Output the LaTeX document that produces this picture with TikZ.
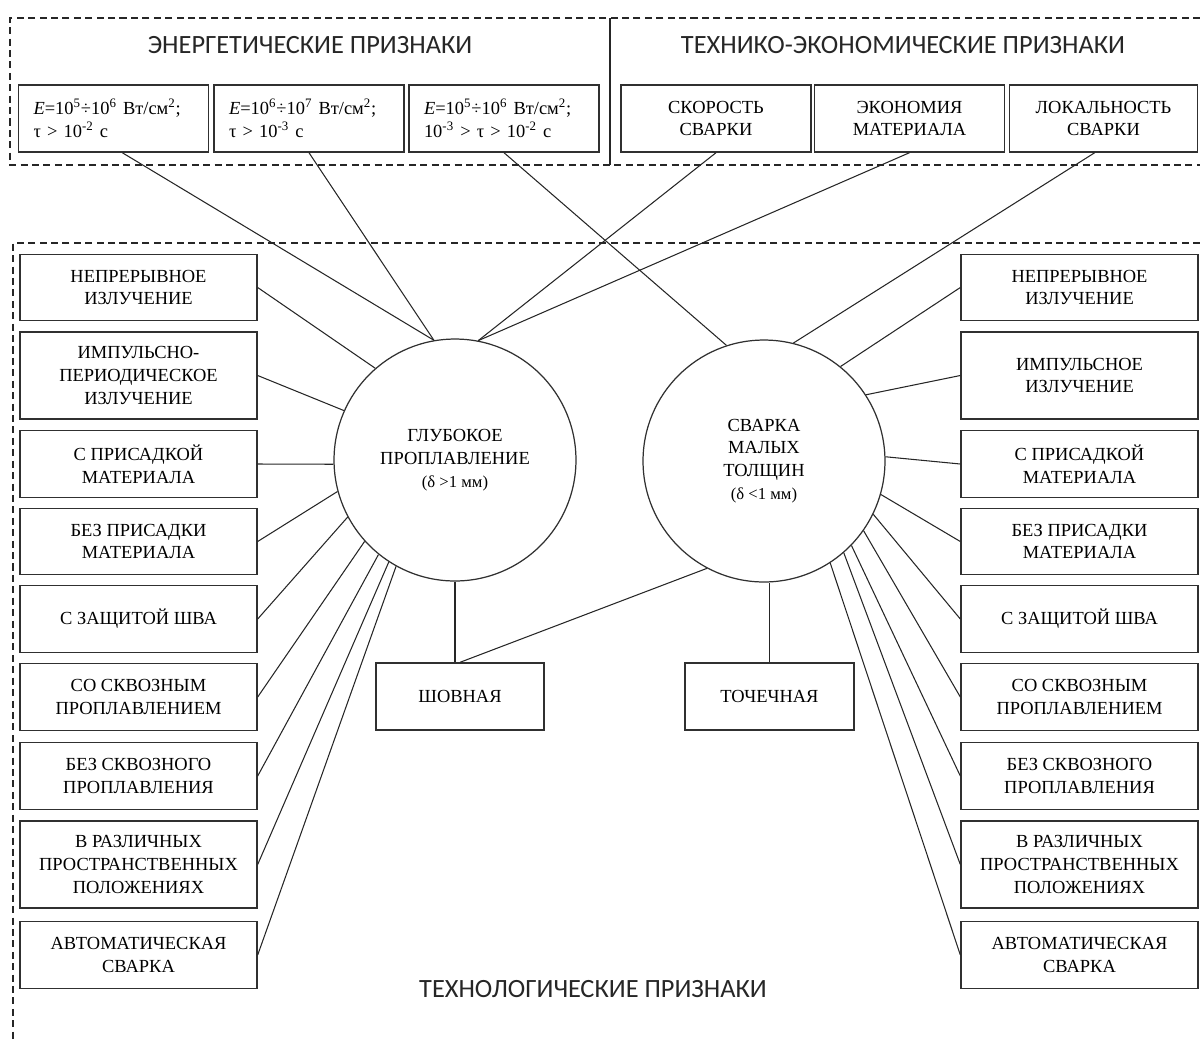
\documentclass[tikz,border=0pt]{standalone}
\usepackage{fontspec}
\setmainfont{Liberation Serif}
\newfontfamily\headfont{Carlito}
\definecolor{frame_grey}{HTML}{303030}
\tikzset{
  sign/.style = {rectangle, draw = frame_grey, line width = 0.8pt, align = center, inner sep = 2pt, font = \fontsize{10.5}{13}\selectfont},
  side sign/.style = {sign, minimum width = 4.74cm, minimum height = 1.33cm},
  tall sign/.style = {side sign, minimum height = 1.74cm},
  top sign/.style = {sign, minimum width = 3.8cm, minimum height = 1.34cm},
  energy sign/.style = {top sign, align = left, text width = 3.2cm, inner xsep = 0.3cm},
  weld/.style = {circle, draw = frame_grey, line width = 0.7pt, minimum size = 4.84cm, inner sep = 0pt, align = center, font = \fontsize{10.5}{13}\selectfont},
  heading/.style = {font = \headfont\fontsize{15}{18}\selectfont, text = black!85},
  link/.style = {draw = black!85, line width = 0.6pt},
  zone/.style = {draw = black!85, line width = 0.7pt, dash pattern = on 4pt off 2.5pt}
}
\begin{document}
\begin{tikzpicture}[x=0.02cm, y=-0.02cm]
\useasboundingbox (0,0) rectangle (1200,1042);
% frames
\draw [zone] (1200,18) -- (10,18) -- (10,165) -- (1200,165);
\draw [link, line width = 0.7pt] (610,18) -- (610,165);
\draw [zone] (1200,243) -- (13,243) -- (13,1042);
\node (EnergyTitle) [heading] at (310,45) {ЭНЕРГЕТИЧЕСКИЕ ПРИЗНАКИ};
\node (EconTitle) [heading] at (903,45) {ТЕХНИКО-ЭКОНОМИЧЕСКИЕ ПРИЗНАКИ};
\node (TechTitle) [heading] at (593,989) {ТЕХНОЛОГИЧЕСКИЕ ПРИЗНАКИ};
% top row
\node (E1) [energy sign] at (113.5,118.5) {\textit{E}=10\textsuperscript{5}÷10\textsuperscript{6} Вт/см\textsuperscript{2};\\τ > 10\textsuperscript{-2} с};
\node (E2) [energy sign] at (309,118.5) {\textit{E}=10\textsuperscript{6}÷10\textsuperscript{7} Вт/см\textsuperscript{2};\\τ > 10\textsuperscript{-3} с};
\node (E3) [energy sign] at (504,118.5) {\textit{E}=10\textsuperscript{5}÷10\textsuperscript{6} Вт/см\textsuperscript{2};\\10\textsuperscript{-3} > τ > 10\textsuperscript{-2} с};
\node (Speed) [top sign] at (716,118.5) {СКОРОСТЬ\\СВАРКИ};
\node (Economy) [top sign] at (909.5,118.5) {ЭКОНОМИЯ\\МАТЕРИАЛА};
\node (Local) [top sign, minimum width = 3.76cm] at (1103.5,118.5) {ЛОКАЛЬНОСТЬ\\СВАРКИ};
% circles
\node (Deep) [weld] at (455,460) {ГЛУБОКОЕ\\ПРОПЛАВЛЕНИЕ\\{\fontsize{9.5}{12}\selectfont(δ >1 мм)}};
\node (Thin) [weld] at (764,461) {СВАРКА\\МАЛЫХ\\ТОЛЩИН\\{\fontsize{9.5}{12}\selectfont(δ <1 мм)}};
\node (Seam) [sign, minimum width = 3.36cm, minimum height = 1.34cm] at (460,696.5) {ШОВНАЯ};
\node (Spot) [sign, minimum width = 3.38cm, minimum height = 1.34cm] at (769.5,696.5) {ТОЧЕЧНАЯ};
% left column
\node (L1) [side sign] at (138.5,287.5) {НЕПРЕРЫВНОЕ\\ИЗЛУЧЕНИЕ};
\node (L2) [tall sign] at (138.5,375.5) {ИМПУЛЬСНО-\\ПЕРИОДИЧЕСКОЕ\\ИЗЛУЧЕНИЕ};
\node (L3) [side sign] at (138.5,464) {С ПРИСАДКОЙ\\МАТЕРИАЛА};
\node (L4) [side sign] at (138.5,541.5) {БЕЗ ПРИСАДКИ\\МАТЕРИАЛА};
\node (L5) [side sign] at (138.5,619) {С ЗАЩИТОЙ ШВА};
\node (L6) [side sign] at (138.5,697) {СО СКВОЗНЫМ\\ПРОПЛАВЛЕНИЕМ};
\node (L7) [side sign] at (138.5,776) {БЕЗ СКВОЗНОГО\\ПРОПЛАВЛЕНИЯ};
\node (L8) [tall sign] at (138.5,864.5) {В РАЗЛИЧНЫХ\\ПРОСТРАНСТВЕННЫХ\\ПОЛОЖЕНИЯХ};
\node (L9) [side sign] at (138.5,955) {АВТОМАТИЧЕСКАЯ\\СВАРКА};
% right column
\node (R1) [side sign] at (1079.5,287.5) {НЕПРЕРЫВНОЕ\\ИЗЛУЧЕНИЕ};
\node (R2) [tall sign] at (1079.5,375.5) {ИМПУЛЬСНОЕ\\ИЗЛУЧЕНИЕ};
\node (R3) [side sign] at (1079.5,464) {С ПРИСАДКОЙ\\МАТЕРИАЛА};
\node (R4) [side sign] at (1079.5,541.5) {БЕЗ ПРИСАДКИ\\МАТЕРИАЛА};
\node (R5) [side sign] at (1079.5,619) {С ЗАЩИТОЙ ШВА};
\node (R6) [side sign] at (1079.5,697) {СО СКВОЗНЫМ\\ПРОПЛАВЛЕНИЕМ};
\node (R7) [side sign] at (1079.5,776) {БЕЗ СКВОЗНОГО\\ПРОПЛАВЛЕНИЯ};
\node (R8) [tall sign] at (1079.5,864.5) {В РАЗЛИЧНЫХ\\ПРОСТРАНСТВЕННЫХ\\ПОЛОЖЕНИЯХ};
\node (R9) [side sign] at (1079.5,955) {АВТОМАТИЧЕСКАЯ\\СВАРКА};
% links to the top row
\path [link] ([xshift=5pt]E1.south) edge (Deep.100);
\path [link] (E2.south) edge (Deep.100);
\path [link] (Speed.south) edge (Deep.79);
\path [link] (Economy.south) edge (Deep.79);
\path [link] (E3.south) edge (Thin.108);
\path [link] ([xshift=-5pt]Local.south) edge (Thin.76);
% links to the columns
\path [link] (L1.east) edge (Deep.131);
\path [link] (L2.east) edge (Deep.156);
\path [link] (L3.east) edge (Deep.182);
\path [link] (L4.east) edge (Deep.195);
\path [link] (L5.east) edge (Deep.208);
\path [link] (L6.east) edge (Deep.222);
\path [link] (L7.east) edge (Deep.231);
\path [link] (L8.east) edge (Deep.237);
\path [link] (L9.east) edge (Deep.241);
\path [link] (R1.west) edge (Thin.51);
\path [link] (R2.west) edge (Thin.33);
\path [link] (R3.west) edge (Thin.2);
\path [link] (R4.west) edge (Thin.-16);
\path [link] (R5.west) edge (Thin.-26);
\path [link] (R6.west) edge (Thin.-35);
\path [link] (R7.west) edge (Thin.-44);
\path [link] (R8.west) edge (Thin.-49);
\path [link] (R9.west) edge (Thin.-57);
% links below
\path [link] (Deep.south) edge (Deep.south |- Seam.north);
\path [link] (Thin.242) edge (Seam.north);
\path [link] (Thin.south -| Spot.north) edge (Spot.north);
\end{tikzpicture}
\end{document}
